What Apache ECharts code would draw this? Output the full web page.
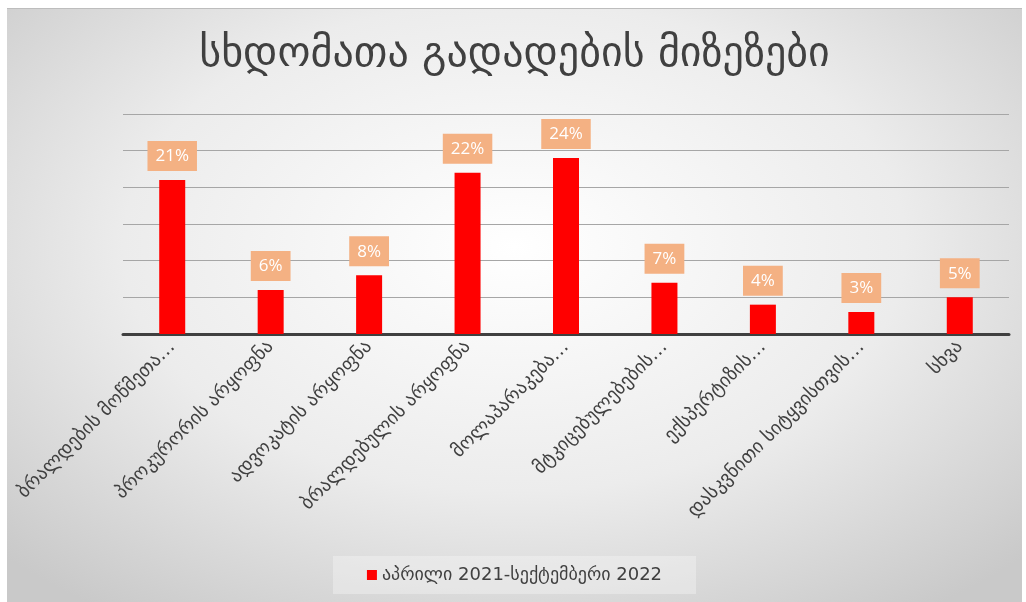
<!DOCTYPE html>
<html>
<head>
<meta charset="utf-8">
<script src="https://cdn.jsdelivr.net/npm/echarts@6/dist/echarts.min.js"></script>
<style>
  html, body { margin: 0; padding: 0; background: #ffffff; width: 1026px; height: 602px; overflow: hidden; }
  #frame {
    position: absolute; left: 7px; top: 8px; width: 1015px; height: 594px;
    background: radial-gradient(ellipse 70% 75% at 50% 40%, #ffffff 0%, #ececec 55%, #c9c9c9 100%);
    border-top: 1px solid #bdbdbd;
  }
  #chart { width: 1015px; height: 594px; }
</style>
</head>
<body>
<div id="frame"><div id="chart"></div></div>
<script>
const titleText = 'სხდომათა გადადების მიზეზები';
const seriesName = 'აპრილი 2021-სექტემბერი 2022';
const categories = [
  'ბრალდების მოწმეთა…',
  'პროკურორის არყოფნა',
  'ადვოკატის არყოფნა',
  'ბრალდებულის არყოფნა',
  'მოლაპარაკება…',
  'მტკიცებულებების…',
  'ექსპერტიზის…',
  'დასკვნითი სიტყვისთვის…',
  'სხვა'
];
const values = [21, 6, 8, 22, 24, 7, 4, 3, 5];
const yMin = 0;
const yMax = 30;
const yStep = 5;

const chart = echarts.init(document.getElementById('chart'), null, { renderer: 'canvas' });
chart.setOption({
  backgroundColor: 'transparent',
  animation: false,
  title: {
    text: titleText,
    left: 'center',
    top: 20,
    textStyle: { fontFamily: 'DejaVu Sans', fontSize: 42, fontWeight: 'normal', color: '#404040' }
  },
  legend: {
    bottom: 9,
    left: 'center',
    padding: [10, 34],
    backgroundColor: 'rgba(255,255,255,0.3)',
    itemWidth: 10,
    itemHeight: 10,
    icon: 'rect',
    textStyle: { fontFamily: 'DejaVu Sans', fontSize: 18, color: '#404040' },
    data: [seriesName]
  },
  grid: { left: 116, right: 13, top: 105, bottom: 269, containLabel: false },
  xAxis: {
    type: 'category',
    data: categories,
    axisTick: { show: false },
    axisLine: { lineStyle: { color: '#404040', width: 3 } },
    axisLabel: {
      rotate: 45,
      interval: 0,
      margin: 10,
      fontFamily: 'DejaVu Sans',
      fontSize: 19,
      color: '#404040'
    }
  },
  yAxis: {
    type: 'value',
    min: yMin,
    max: yMax,
    interval: yStep,
    axisLabel: { show: false },
    axisLine: { show: false },
    axisTick: { show: false },
    splitLine: { lineStyle: { color: '#a6a6a6', width: 1 } }
  },
  series: [{
    name: seriesName,
    type: 'bar',
    data: values,
    barWidth: 26,
    itemStyle: { color: '#ff0000' },
    label: {
      show: true,
      position: 'top',
      distance: 9,
      formatter: p => p.value + '%',
      backgroundColor: '#f4b183',
      color: '#ffffff',
      fontFamily: 'Open Sans',
      fontSize: 17,
      padding: [7, 8, 6, 8]
    }
  }]
});
</script>
</body>
</html>
